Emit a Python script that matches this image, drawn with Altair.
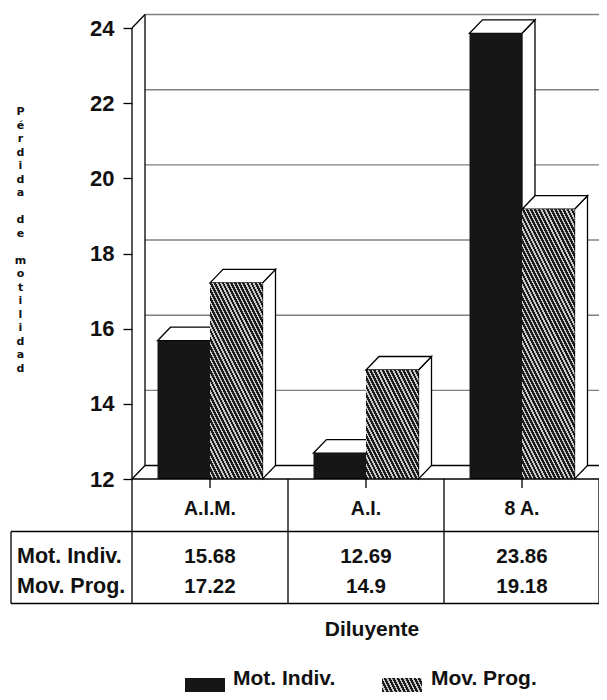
import math
import altair as alt
import pandas as pd

categories = ["A.I.M.", "A.I.", "8 A."]
series_names = ["Mot. Indiv.", "Mov. Prog."]
mot_indiv = [15.68, 12.69, 23.86]
mov_prog = [17.22, 14.9, 19.18]
mot_labels = ["15.68", "12.69", "23.86"]
mov_labels = ["17.22", "14.9", "19.18"]
y_ticks = [12, 14, 16, 18, 20, 22, 24]
grid_values = [14, 16, 18, 20, 22]
y_title = "Pérdida de motilidad"

W, H = 591, 684
PX_X, PX_Y = 156.0, 37.58
FONT = "Liberation Sans"


def X(px):
    return (px - 132) / PX_X


def Y(py):
    return 12 + (479 - py) / PX_Y


xs = alt.Scale(domain=[X(8), X(8 + W)], range=[0, W], nice=False, zero=False)
ys = alt.Scale(domain=[Y(8 + H), Y(8)], range=[H, 0], nice=False, zero=False)
y_axis = alt.Axis(
    values=y_ticks, title=None, grid=False, domain=False, offset=-124,
    tickSize=9, tickWidth=1.3, tickColor="black", labelPadding=9,
    labelFont=FONT, labelFontWeight="bold", labelFontSize=22, labelColor="#111",
    format="d", labelFlush=False, labelOverlap=False,
)
DX = 13.0 / PX_X
DY = 13.5 / PX_Y
BW = 52.5 / PX_X


def ench(field="y"):
    return alt.Y(f"{field}:Q", scale=ys, axis=y_axis)


def enc_x(field="x"):
    return alt.X(f"{field}:Q", scale=xs, axis=None)


def hatch(w, h):
    s, p = 2.0, 3.6
    r = s * w / h
    k = (r + 1) / (r * r + 1)
    a, b = k * r, k
    n = max(2, int((w * s + h) / math.hypot(1, s) / p))
    stops = []
    for i in range(n):
        t0, t1, t2 = i / n, (i + 0.58) / n, (i + 1) / n
        stops += [
            {"offset": t0, "color": "#1c1c1c"},
            {"offset": t1, "color": "#1c1c1c"},
            {"offset": t1, "color": "#c9c9c9"},
            {"offset": t2, "color": "#c9c9c9"},
        ]
    return {"gradient": "linear", "x1": 0, "y1": 1, "x2": a, "y2": 1 - b, "stops": stops}


def segs(rows, color="black", width=1.3):
    df = pd.DataFrame(rows, columns=["x", "x2", "y", "y2"])
    return alt.Chart(df).mark_rule(color=color, strokeWidth=width).encode(
        x=enc_x(), x2="x2:Q", y=ench(), y2="y2:Q"
    )


def txt(rows, size, align="center", font=FONT, **kw):
    df = pd.DataFrame(rows, columns=["x", "y", "t"])
    return alt.Chart(df).mark_text(
        font=font, fontWeight="bold", fontSize=size, align=align, baseline="middle", color="#111", **kw
    ).encode(x=enc_x(), y=ench(), text="t:N")


layers = []

# back wall and gridlines
x_wall = DX
x_right = X(8 + W)
layers.append(segs([[x_wall, x_right, v + DY, v + DY] for v in grid_values] + [[x_wall, x_right, 24 + DY, 24 + DY]], color="#808080", width=1.4))
layers.append(segs([
    [0, 0, 12, 24],
    [x_wall, x_wall, 12 + DY, 24 + DY],
    [0, x_wall, 24, 24 + DY],
    [0, x_wall, 12, 12 + DY],
    [x_wall, x_right, 12 + DY, 12 + DY],
]))


def bar_layers(i, k, v, fill):
    x0 = i + 0.5 + (k - 1) * BW
    x1 = x0 + BW
    out = []
    side = pd.DataFrame({"x": [x1, x1 + DX], "y": [v, v + DY], "y2": [12, 12 + DY]})
    top = pd.DataFrame({
        "x": [x0, x0 + DX, x1, x1 + DX],
        "y": [v, v + DY, v + DY, v + DY],
        "y2": [v, v, v, v + DY],
    })
    for df in (side, top):
        out.append(
            alt.Chart(df).mark_area(fill="white", stroke="black", strokeWidth=1.3, interpolate="linear").encode(
                x=enc_x(), y=ench(), y2="y2:Q"
            )
        )
    front = pd.DataFrame({"x": [x0], "x2": [x1], "y": [v], "y2": [12]})
    out.append(alt.Chart(front).mark_rect(fill=fill).encode(x=enc_x(), x2="x2:Q", y=ench(), y2="y2:Q"))
    return out


for i in range(3):
    layers += bar_layers(i, 0, mot_indiv[i], "#161616")
    layers += bar_layers(i, 1, mov_prog[i], hatch(52.5, (mov_prog[i] - 12) * PX_Y))

# table grid
r_head, r_mid, r_bot = Y(479), Y(531.5), Y(603.5)
x_tab_l, x_tab_r = X(11), x_right
layers.append(segs([
    [0, x_tab_r, r_head, r_head],
    [x_tab_l, x_tab_r, r_mid, r_mid],
    [x_tab_l, x_tab_r, r_bot, r_bot],
    [x_tab_l, x_tab_l, r_mid, r_bot],
    [0, 0, r_head, r_bot],
    [1, 1, r_head, r_bot],
    [2, 2, r_head, r_bot],
    [x_right, x_right, r_head, r_bot],
] + [[i + 0.5, i + 0.5, r_head, Y(488)] for i in range(3)]))

# table text
layers.append(txt([[i + 0.5, Y(509), c] for i, c in enumerate(categories)], 19.5))
layers.append(txt([[i + 0.5, Y(556.5), c] for i, c in enumerate(mot_labels)], 20.5))
layers.append(txt([[i + 0.5, Y(586.5), c] for i, c in enumerate(mov_labels)], 20.5))
layers.append(txt([[X(17), Y(556.5), series_names[0]], [X(17), Y(586.5), series_names[1]]], 21.5, align="left"))
layers.append(txt([[X(372), Y(630), "Diluyente"]], 21))

# y title, one letter per row
layers.append(txt([[X(20.5), Y(112 + 13.5 * i), c] for i, c in enumerate(y_title) if c != " "], 11, font="DejaVu Sans"))

# legend
for px0, px1, fill, label, tx in [
    (185, 225, "#161616", series_names[0], 233),
    (382, 422, hatch(40, 14), series_names[1], 431),
]:
    sw = pd.DataFrame({"x": [X(px0)], "x2": [X(px1)], "y": [Y(678)], "y2": [Y(692)]})
    layers.append(alt.Chart(sw).mark_rect(fill=fill).encode(x=enc_x(), x2="x2:Q", y=ench(), y2="y2:Q"))
    layers.append(txt([[X(tx), Y(679), label]], 21, align="left"))

chart = alt.layer(*layers).properties(
    width=W, height=H, padding=0, background="white",
    autosize=alt.AutoSizeParams(type="none"),
).configure_view(stroke=None)

chart.save("out.html", embed_options={"renderer": "svg", "actions": False})
